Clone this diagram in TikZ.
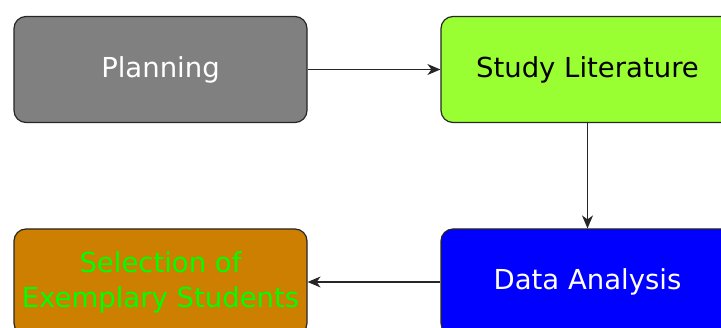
\documentclass[tikz,border=0pt]{standalone}
\usepackage{fontspec}
\setmainfont{DejaVu Sans}
\usepackage{xcolor}
\usepackage{tikz}
\usetikzlibrary{arrows.meta}

\definecolor{planGray}{HTML}{808080}
\definecolor{studyGreen}{HTML}{99FF33}
\definecolor{dataBlue}{HTML}{0000FF}
\definecolor{selOrange}{HTML}{CC7F00}
\definecolor{selText}{HTML}{00FF00}

\begin{document}
\begin{tikzpicture}[x=1pt,y=1pt,
		stagebox/.style={draw=black!85, line width=1.2pt, rounded corners=12pt,
			minimum width=293pt, minimum height=106pt, align=center,
			font=\fontsize{27.5}{35}\selectfont, inner sep=0pt},
		flow/.style={-{Stealth[length=13pt,width=11pt,inset=4pt]}, line width=1.3pt, draw=black!85}]
		\useasboundingbox (0,0) rectangle (721,-328);
		
		\node[stagebox, fill=planGray, text=white] (plan) at (160.5,-69.5) {Planning};
		\node[stagebox, fill=studyGreen, text=black] (study) at (587.5,-69.5) {Study Literature};
		\node[stagebox, fill=dataBlue, text=white] (data) at (587.5,-282) {Data Analysis};
		\node[stagebox, fill=selOrange, text=selText] (select) at (160.5,-282) {Selection of\\Exemplary Students};
		
		\draw [flow] (plan) -- (study);
		\draw [flow] (study) -- (data);
		\draw [flow] (data) -- (select);
	\end{tikzpicture}
\end{document}
